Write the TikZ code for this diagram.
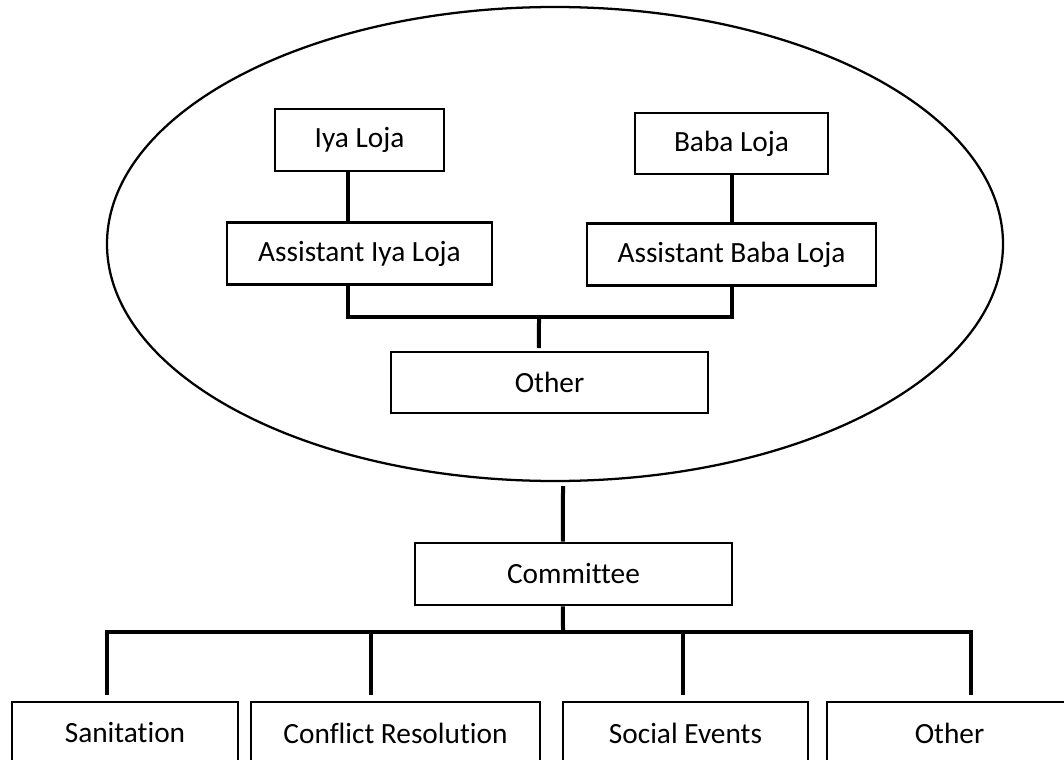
\documentclass[tikz,border=0pt]{standalone}
\usepackage{fontspec}
\setmainfont{Carlito}[Ligatures={NoCommon}]
\usetikzlibrary{positioning,shapes.geometric}

\begin{document}
\begin{tikzpicture}[x=0.75pt,y=-0.75pt,font=\fontsize{22}{26}\selectfont]
            \tikzset{org box/.style = {rectangle, draw, line width=1.9pt, inner sep=0pt, minimum height=46.5pt}}
            \tikzset{org edge/.style = {-, line width=3pt}}
            \useasboundingbox (0,0) rectangle (1064,760);
            \clip (0,0) rectangle (1064,760);
            % the ring round the leaders
            \node[ellipse, draw, line width=1.7pt, inner sep=0pt, minimum width=672pt, minimum height=355.5pt] (grp) at (555,244) {};
            \node[org box, minimum width=126.75pt] (iya) at (359.5,140) {Iya Loja};
            \node[org box, minimum width=144.75pt, minimum height=45.75pt] (baba) at (731.5,143.5) {Baba Loja};
            \node[org box, minimum width=198.75pt] (aiya) [below=36.75pt of iya] {Assistant Iya Loja};
            \node[org box, minimum width=216.75pt] (ababa) [below=35.25pt of baba] {Assistant Baba Loja};
            \node[org box, minimum width=237.75pt, minimum height=45.75pt] (other) at (549.5,382.5) {Other};
            \node[org box, minimum width=237.75pt] (comm) at (573.5,574) {Committee};
            % committees
            \node[org box, minimum width=169.5pt] (san) at (125,733) {Sanitation};
            \node[org box, minimum width=216.75pt] (conf) at (395.5,733) {Conflict Resolution};
            \node[org box, minimum width=183.75pt] (soc) at (685.5,733) {Social Events};
            \node[org box, minimum width=183.75pt] (oth) at (949.5,733) {Other};
            \coordinate (bar1) at (539,317);
            \coordinate (bar2) at (563,632);
            \draw[org edge] ([xshift=-8.6pt]iya.south) -- ([xshift=-8.6pt]aiya.north);
            \draw[org edge] (baba) -- (ababa);
            \draw[org edge] ([xshift=-8.6pt]aiya.south) |- (bar1) -| (ababa.south);
            \draw[org edge, shorten >=2pt] (bar1) -- ([xshift=-7.9pt]other.north);
            \draw[org edge, shorten <=3pt] ([xshift=6pt]grp.south) -- ([xshift=-7.9pt]comm.north);
            \draw[org edge] ([xshift=-7.9pt]comm.south) -- (bar2);
            \draw[org edge, line cap=rect] ([xshift=-13.5pt]san.north |- bar2) -- ([xshift=16.1pt]oth.north |- bar2);
            \foreach \n/\s in {san/-13.5,conf/-18.4,soc/-1.9,oth/16.1}
                \draw[org edge, shorten >=4pt] ([xshift=\s pt]\n.north |- bar2) -- ([xshift=\s pt]\n.north);
        \end{tikzpicture}
\end{document}
